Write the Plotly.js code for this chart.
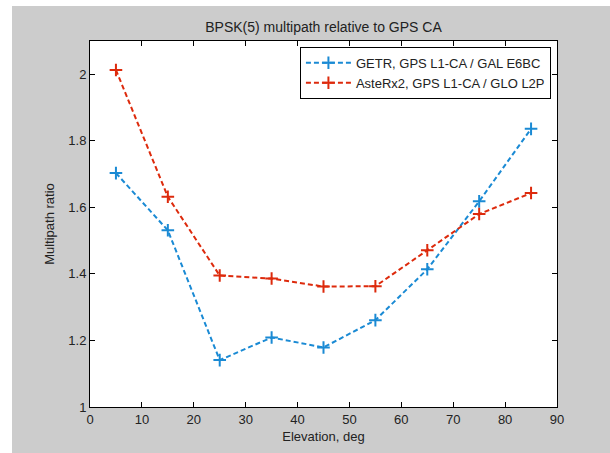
<!DOCTYPE html>
<html>
<head>
<meta charset="utf-8">
<script src="https://cdn.plot.ly/plotly-3.0.1.min.js"></script>
<style>
html,body{margin:0;padding:0;background:#ffffff;width:610px;height:453px;overflow:hidden;}
#chart{position:absolute;left:12px;top:6px;width:598px;height:447px;}
</style>
</head>
<body>
<div id="chart"></div>
<script>
var elevation = [5, 15, 25, 35, 45, 55, 65, 75, 85];
var getrRatio = [1.703, 1.531, 1.141, 1.209, 1.179, 1.261, 1.414, 1.618, 1.836];
var asterxRatio = [2.013, 1.632, 1.395, 1.386, 1.362, 1.363, 1.471, 1.580, 1.643];
var seriesNames = ["GETR, GPS L1-CA / GAL E6BC", "AsteRx2, GPS L1-CA / GLO L2P"];
var xTicks = [0, 10, 20, 30, 40, 50, 60, 70, 80, 90];
var yTicks = [1, 1.2, 1.4, 1.6, 1.8, 2];

var blue = "#1a8ad4";
var red = "#dd2a0c";
var FONT = "Liberation Sans, Arial, sans-serif";

function trace(y, name, color) {
  return {
    x: elevation, y: y, name: name, type: "scatter", mode: "lines+markers",
    line: {color: color, width: 2, dash: "5px,3px"},
    marker: {symbol: "cross-thin", size: 9, color: color, line: {color: color, width: 2}}
  };
}

var data = [trace(getrRatio, seriesNames[0], blue), trace(asterxRatio, seriesNames[1], red)];

var axisCommon = {
  showline: true, mirror: "allticks", linecolor: "#000", linewidth: 1,
  ticks: "inside", ticklen: 5, tickcolor: "#000", tickwidth: 1,
  showgrid: false, zeroline: false,
  tickfont: {family: FONT, size: 13, color: "#222"}
};

var layout = {
  width: 598, height: 447,
  margin: {l: 78, r: 53, t: 35, b: 46},
  paper_bgcolor: "#cccccc", plot_bgcolor: "#ffffff",
  font: {family: FONT, size: 13, color: "#222"},
  title: {text: "BPSK(5) multipath relative to GPS CA", x: 0.5, xref: "paper", xanchor: "center",
          y: 1, yref: "paper", yanchor: "bottom", pad: {b: 9},
          font: {family: FONT, size: 14, color: "#222"}},
  xaxis: Object.assign({}, axisCommon, {
    range: [0, 90], tickvals: xTicks, ticktext: xTicks.map(String),
    title: {text: "Elevation, deg", standoff: 6, font: {size: 13, color: "#222"}}
  }),
  yaxis: Object.assign({}, axisCommon, {
    range: [1, 2.1], tickvals: yTicks, ticktext: yTicks.map(function(v){return String(v);}),
    title: {text: "Multipath ratio", standoff: 10, font: {size: 13, color: "#222"}}
  }),
  showlegend: true,
  legend: {
    x: 0.987, xanchor: "right", y: 0.984, yanchor: "top",
    bgcolor: "#ffffff", bordercolor: "#000", borderwidth: 1,
    font: {family: FONT, size: 13, color: "#222"},
    itemwidth: 45, tracegroupgap: 0
  }
};

Plotly.newPlot("chart", data, layout, {displayModeBar: false, staticPlot: true});
</script>
</body>
</html>
